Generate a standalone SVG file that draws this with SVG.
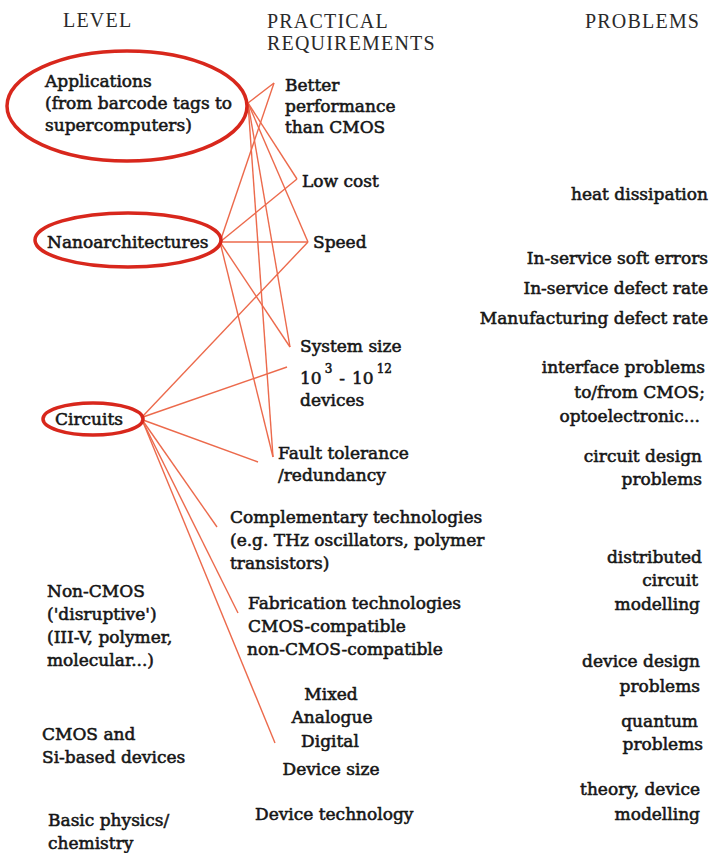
<svg xmlns="http://www.w3.org/2000/svg" width="723" height="853" viewBox="0 0 723 853">
<style>
  .hdr { font-family: "Liberation Serif", "Times New Roman", serif; font-size: 20px; letter-spacing: 1.2px; fill: #2a2a2a; }
  .t { font-family: "DejaVu Serif", "Liberation Serif", serif; font-size: 17px; fill: #161616; stroke: #161616; stroke-width: 0.55px; }
  .sup { font-size: 12px; }
  .r { text-anchor: end; }
  .m { text-anchor: middle; }
  .ell { fill: none; stroke: #d8271c; stroke-width: 3.5; }
  .ln { stroke: #ec6a4c; stroke-width: 1.4; fill: none; }
</style>
<rect width="723" height="853" fill="#ffffff"/>

<g id="headers">
  <text class="hdr" x="63" y="27">LEVEL</text>
  <text class="hdr" x="267" y="28">PRACTICAL</text>
  <text class="hdr" x="267" y="50">REQUIREMENTS</text>
  <text class="hdr" x="585" y="28">PROBLEMS</text>
</g>

<g id="connectors">
  <!-- from Applications -->
  <line class="ln" x1="248" y1="103" x2="274" y2="83"/>
  <line class="ln" x1="248" y1="103" x2="297" y2="179"/>
  <line class="ln" x1="248" y1="103" x2="308" y2="242"/>
  <line class="ln" x1="248" y1="103" x2="290" y2="347"/>
  <line class="ln" x1="248" y1="103" x2="273" y2="457"/>
  <!-- from Nanoarchitectures -->
  <line class="ln" x1="220" y1="242" x2="274" y2="83"/>
  <line class="ln" x1="220" y1="242" x2="297" y2="179"/>
  <line class="ln" x1="220" y1="242" x2="308" y2="242"/>
  <line class="ln" x1="220" y1="242" x2="290" y2="347"/>
  <line class="ln" x1="220" y1="242" x2="273" y2="457"/>
  <!-- from Circuits -->
  <line class="ln" x1="143" y1="416" x2="308" y2="242"/>
  <line class="ln" x1="143" y1="417" x2="287" y2="367"/>
  <line class="ln" x1="143" y1="420" x2="258" y2="462"/>
  <line class="ln" x1="143" y1="421" x2="217" y2="527"/>
  <line class="ln" x1="143" y1="422" x2="238" y2="613"/>
  <line class="ln" x1="143" y1="422" x2="275" y2="743"/>
</g>

<g id="level-applications">
  <ellipse class="ell" cx="127" cy="106" rx="120" ry="55"/>
  <text class="t" x="45" y="87">Applications</text>
  <text class="t" x="45" y="109">(from barcode tags to</text>
  <text class="t" x="45" y="131">supercomputers)</text>
</g>
<g id="level-nanoarchitectures">
  <ellipse class="ell" cx="128" cy="240" rx="93" ry="27"/>
  <text class="t" x="47" y="248">Nanoarchitectures</text>
</g>
<g id="level-circuits">
  <ellipse class="ell" cx="93" cy="419" rx="50" ry="16"/>
  <text class="t" x="55" y="425">Circuits</text>
</g>
<g id="level-noncmos">
  <text class="t" x="47" y="597">Non-CMOS</text>
  <text class="t" x="47" y="620">('disruptive')</text>
  <text class="t" x="47" y="643">(III-V, polymer,</text>
  <text class="t" x="47" y="666">molecular...)</text>
</g>
<g id="level-cmos">
  <text class="t" x="42" y="740">CMOS and</text>
  <text class="t" x="42" y="763">Si-based devices</text>
</g>
<g id="level-physics">
  <text class="t" x="48" y="826">Basic physics/</text>
  <text class="t" x="48" y="849">chemistry</text>
</g>

<g id="req-better">
  <text class="t" x="285" y="91">Better</text>
  <text class="t" x="285" y="112">performance</text>
  <text class="t" x="285" y="133">than CMOS</text>
</g>
<g id="req-lowcost">
  <text class="t" x="302" y="187">Low cost</text>
</g>
<g id="req-speed">
  <text class="t" x="313" y="248">Speed</text>
</g>
<g id="req-systemsize">
  <text class="t" x="300" y="352">System size</text>
  <text class="t" x="300" y="384">10<tspan class="sup" dy="-11" dx="3">3</tspan><tspan dy="11" dx="7">-</tspan><tspan dx="7">10</tspan><tspan class="sup" dy="-11" dx="3">12</tspan></text>
  <text class="t" x="300" y="406">devices</text>
</g>
<g id="req-fault">
  <text class="t" x="278" y="459">Fault tolerance</text>
  <text class="t" x="278" y="481">/redundancy</text>
</g>
<g id="req-complementary">
  <text class="t" x="230" y="523">Complementary technologies</text>
  <text class="t" x="230" y="546">(e.g. THz oscillators, polymer</text>
  <text class="t" x="230" y="569">transistors)</text>
</g>
<g id="req-fabrication">
  <text class="t" x="248" y="609">Fabrication technologies</text>
  <text class="t" x="248" y="632">CMOS-compatible</text>
  <text class="t" x="247" y="655">non-CMOS-compatible</text>
</g>
<g id="req-mixed">
  <text class="t m" x="331" y="700">Mixed</text>
  <text class="t m" x="332" y="723">Analogue</text>
  <text class="t m" x="330" y="747">Digital</text>
</g>
<g id="req-devicesize">
  <text class="t m" x="331" y="775">Device size</text>
</g>
<g id="req-devicetech">
  <text class="t" x="255" y="820">Device technology</text>
</g>

<g id="prob-heat">
  <text class="t r" x="708" y="200">heat dissipation</text>
</g>
<g id="prob-soft">
  <text class="t r" x="708" y="264">In-service soft errors</text>
</g>
<g id="prob-defect">
  <text class="t r" x="708" y="294">In-service defect rate</text>
</g>
<g id="prob-manufacturing">
  <text class="t r" x="708" y="324">Manufacturing defect rate</text>
</g>
<g id="prob-interface">
  <text class="t r" x="705" y="373">interface problems</text>
  <text class="t r" x="705" y="398">to/from CMOS;</text>
  <text class="t r" x="700" y="422">optoelectronic...</text>
</g>
<g id="prob-circuitdesign">
  <text class="t r" x="702" y="462">circuit design</text>
  <text class="t r" x="702" y="485">problems</text>
</g>
<g id="prob-distributed">
  <text class="t r" x="702" y="563">distributed</text>
  <text class="t r" x="698" y="586">circuit</text>
  <text class="t r" x="700" y="610">modelling</text>
</g>
<g id="prob-devicedesign">
  <text class="t r" x="700" y="667">device design</text>
  <text class="t r" x="700" y="692">problems</text>
</g>
<g id="prob-quantum">
  <text class="t r" x="698" y="727">quantum</text>
  <text class="t r" x="703" y="750">problems</text>
</g>
<g id="prob-theory">
  <text class="t r" x="700" y="795">theory, device</text>
  <text class="t r" x="700" y="820">modelling</text>
</g>
</svg>
